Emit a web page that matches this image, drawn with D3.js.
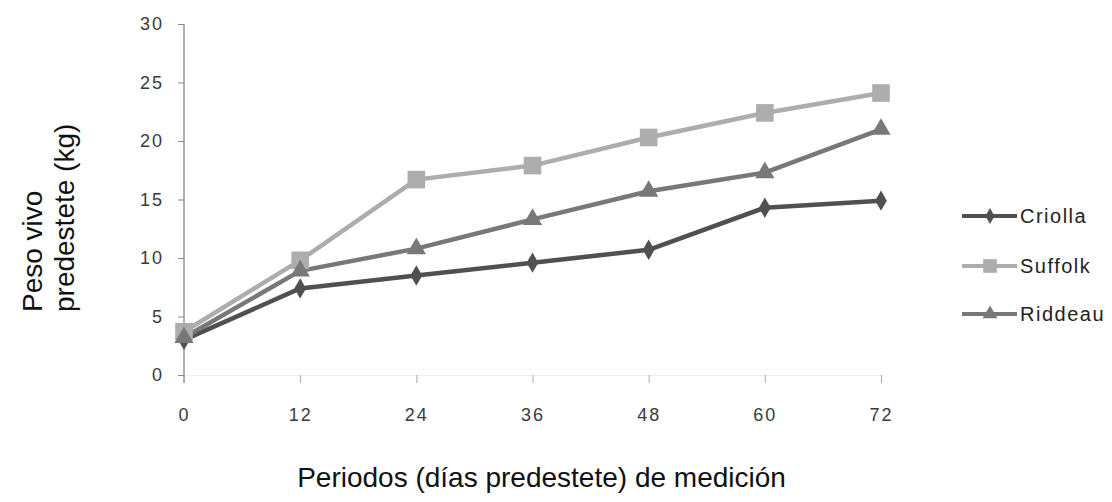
<!DOCTYPE html>
<html><head><meta charset="utf-8">
<script src="https://cdn.jsdelivr.net/npm/d3@7"></script>
<style>body{margin:0;background:#fff}svg{display:block}</style>
</head><body><svg id="c" width="1112" height="502"></svg>
<script>
const periods = ["0","12","24","36","48","60","72"];
const yTicks = [0,5,10,15,20,25,30];
const criolla = [3.0,7.4,8.5,9.6,10.7,14.3,14.9];
const suffolk = [3.7,9.8,16.7,17.9,20.3,22.4,24.1];
const riddeau = [3.2,8.9,10.8,13.3,15.7,17.3,21.0];
const seriesNames = ["Criolla","Suffolk","Riddeau"];
const xTitle = "Periodos (días predestete) de medición";
const yTitle = ["Peso vivo","predestete (kg)"];

const series = [
  {name:seriesNames[0], values:criolla, color:"#505050", symbol:d3.symbolDiamond, size:120},
  {name:seriesNames[1], values:suffolk, color:"#adadad", symbol:d3.symbolSquare, size:310},
  {name:seriesNames[2], values:riddeau, color:"#787878", symbol:d3.symbolTriangle, size:160}
];

const svg = d3.select("#c");
const x = d3.scalePoint().domain(periods).range([184,881]);
const y = d3.scaleLinear().domain([0,30]).range([375,24]);

// y axis
const ya = svg.append("g").attr("transform","translate(184,0)")
  .call(d3.axisLeft(y).tickValues(yTicks).tickSize(6).tickPadding(14).tickSizeOuter(0));
ya.select(".domain").remove();
ya.selectAll(".tick line").attr("stroke","#888");
ya.selectAll("text").attr("font-family","Liberation Sans, Arial").attr("font-size",18)
  .attr("letter-spacing","2px").attr("fill","#3a3a3a");
svg.append("line").attr("x1",184).attr("x2",184).attr("y1",y(30)).attr("y2",383)
  .attr("stroke","#888").attr("stroke-width",1.3);

// x axis
const xa = svg.append("g").attr("transform","translate(0,375)")
  .call(d3.axisBottom(x).tickSize(8).tickPadding(25).tickSizeOuter(0));
xa.select(".domain").attr("stroke","#eee");
xa.selectAll(".tick line").attr("stroke","#aaa");
xa.selectAll("text").attr("font-family","Liberation Sans, Arial").attr("font-size",18)
  .attr("letter-spacing","2px").attr("fill","#3a3a3a");

// lines
const line = d3.line().x((d,i)=>x(periods[i])).y(d=>y(d));
series.forEach(s=>{
  svg.append("path").datum(s.values).attr("d",line).attr("fill","none")
    .attr("stroke",s.color).attr("stroke-width",4.5).attr("stroke-linejoin","round");
});
series.forEach(s=>{
  svg.append("g").selectAll("path").data(s.values).join("path")
    .attr("d",d3.symbol().type(s.symbol).size(s.size))
    .attr("transform",(d,i)=>`translate(${x(periods[i])},${y(d)})`)
    .attr("fill",s.color);
});

// legend
const legY = [216,266,314];
series.forEach((s,i)=>{
  const g = svg.append("g").attr("transform",`translate(0,${legY[i]})`);
  g.append("line").attr("x1",962).attr("x2",1017).attr("stroke",s.color).attr("stroke-width",4);
  g.append("path").attr("d",d3.symbol().type(s.symbol).size(s.size*0.6)).attr("transform","translate(990,0)").attr("fill",s.color);
  g.append("text").attr("x",1020).attr("y",7).text(s.name)
    .attr("font-family","Liberation Sans, Arial").attr("font-size",20).attr("letter-spacing","1.5px").attr("fill","#222");
});

// titles
svg.append("text").attr("x",(268+815)/2).attr("y",487).attr("text-anchor","middle")
  .attr("font-family","Liberation Sans, Arial").attr("font-size",28).attr("fill","#111").text(xTitle);
const yt = svg.append("text").attr("transform","translate(42,312) rotate(-90)")
  .attr("font-family","Liberation Sans, Arial").attr("font-size",28).attr("fill","#111");
yt.append("tspan").attr("x",0).attr("y",0).text(yTitle[0]);
yt.append("tspan").attr("x",0).attr("y",32).text(yTitle[1]);
</script></body></html>
